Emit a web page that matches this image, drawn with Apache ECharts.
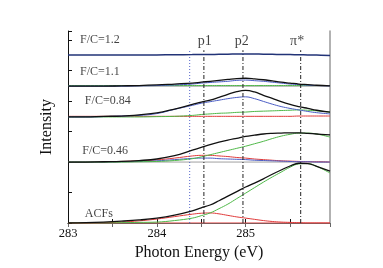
<!DOCTYPE html>
<html><head><meta charset="utf-8">
<script src="https://cdn.jsdelivr.net/npm/echarts@6/dist/echarts.min.js"></script>
<style>html,body{margin:0;padding:0;background:#fff}#c{width:383px;height:268px}</style>
</head><body><div id="c"></div>
<script>
// energy grid (eV)
const energy = [283.0,283.2,283.4,283.6,283.8,284.0,284.2,284.4,284.5,284.6,284.7,284.8,284.9,285.0,285.1,285.2,285.3,285.4,285.5,285.6,285.7,285.8,285.95];
// baselines (offset) of each spectrum
const panelNames = ['ACFs','F/C=0.46','F/C=0.84','F/C=1.1','F/C=1.2'];
const baselines = [0, 2.0, 3.48, 4.49, 5.51];

// ACFs
const acfsFit   = [0,0.01,0.03,0.06,0.1,0.16,0.26, 0.4,0.5,0.59,0.73,0.88,1.03,1.18,1.31,1.45,1.6,1.74,1.87,1.96,1.95,1.86,1.7];
const acfsGreen = [0,0,0,0.01,0.02,0.03,0.08, 0.16,0.24,0.33,0.47,0.62,0.8,0.98,1.16,1.34,1.51,1.67,1.83,1.94,1.95,1.86,1.64];
const acfsRed   = [0,0,0.01,0.03,0.07,0.13,0.21, 0.29,0.32,0.33,0.3,0.25,0.2,0.16,0.12,0.08,0.05,0.03,0.02,0.01,0,0,0];
// F/C = 0.46
const fc046Fit   = [0,0,0.01,0.02,0.05,0.1,0.21, 0.39,0.48,0.57,0.65,0.72,0.78,0.84,0.88,0.92,0.94,0.95,0.96,0.96,0.94,0.92,0.89];
const fc046Green = [0,0,0,0,0.01,0.02,0.05, 0.11,0.17,0.24,0.31,0.38,0.45,0.52,0.6,0.68,0.77,0.85,0.91,0.95,0.95,0.92,0.82];
const fc046Red   = [0,0,0.01,0.02,0.04,0.07,0.13, 0.2,0.22,0.22,0.2,0.18,0.15,0.13,0.1,0.08,0.06,0.04,0.03,0.02,0.01,0.01,0];
const fc046Blue  = [0,0,0,0.01,0.02,0.04,0.08, 0.12,0.13,0.13,0.11,0.1,0.09,0.08,0.06,0.05,0.04,0.03,0.02,0.01,0.01,0,0];
// F/C = 0.84
const fc084Fit   = [0,0,0.02,0.03,0.07,0.13,0.26, 0.41,0.49,0.55,0.64,0.74,0.83,0.87,0.82,0.71,0.61,0.5,0.41,0.34,0.28,0.22,0.16];
const fc084Blue  = [0,0,0.01,0.03,0.05,0.11,0.25, 0.38,0.45,0.5,0.55,0.6,0.64,0.66,0.6,0.51,0.42,0.34,0.28,0.23,0.18,0.14,0.1];
const fc084Green = [0,0,0,0,0,0.01,0.02, 0.05,0.08,0.1,0.12,0.13,0.15,0.16,0.18,0.19,0.2,0.21,0.22,0.23,0.22,0.2,0.16];
const fc084Red   = [0.02,0.02,0.02,0.02,0.02,0.02,0.02, 0.02,0.02,0.02,0.02,0.02,0.02,0.02,0.02,0.02,0.02,0.02,0.02,0.03,0.03,0.03,0.03];
// F/C = 1.1
const fc11Fit   = [0,0,0,0.01,0.02,0.04,0.07, 0.1,0.13,0.16,0.19,0.22,0.25,0.26,0.24,0.21,0.17,0.13,0.1,0.07,0.05,0.03,0.01];
const fc11Blue  = [0,0,0,0,0.01,0.02,0.04, 0.07,0.1,0.12,0.14,0.16,0.19,0.2,0.18,0.16,0.13,0.1,0.07,0.05,0.03,0.02,0.01];
const fc11Green = [0.02,0.02,0.02,0.02,0.02,0.02,0.02, 0.02,0.02,0.02,0.02,0.02,0.02,0.02,0.02,0.02,0.02,0.02,0.02,0.02,0.02,0.02];
// F/C = 1.2
const fc12Fit = [0,0,0,0,0,0.005,0.01, 0.015,0.018,0.02,0.025,0.03,0.033,0.035,0.033,0.03,0.025,0.02,0.015,0.01,0.005,0,-0.01];

// vertical reference lines
const refLineX = [284.37, 284.53, 284.97, 285.62];
const refLineTop = 5.67;
const peakLabels = ['p1','p2','π*'];
const peakLabelX = [284.54, 284.955, 285.58];
const peakLabelY = 5.97;
const panelLabelX = [283.19, 283.16, 283.19, 283.135, 283.135];
const panelLabelY = [0.3, 2.36, 4.0, 4.95, 6.0];

const xMin = 283, xMax = 285.95;
const C = {black:'#111111', blue:'#4a5cc4', green:'#4fb848', red:'#e03a3a', gray:'#a0a0a0'};
const serif = 'Liberation Serif';

function curve(vals, base, color, width, z){
  return {type:'line', smooth:0.4, showSymbol:false, silent:true, z:z||2,
    lineStyle:{color:color, width:width||1},
    data: vals.map((v,i)=>[energy[i], base+v])};
}
function hline(base, color){
  return {type:'line', showSymbol:false, silent:true, z:1, lineStyle:{color:color,width:1},
    data:[[xMin,base],[xMax,base]]};
}
function vline(x, color, type){
  return {type:'line', showSymbol:false, silent:true, z:3, lineStyle:{color:color,width:1,type:type},
    data:[[x,0],[x,refLineTop]]};
}

const series = [
  hline(baselines[1], C.gray),
  hline(baselines[3], C.gray),
  hline(0, C.red),
  vline(refLineX[0], '#5566cc', [1,2]),
  vline(refLineX[1], '#222', [4,2,1,2]),
  vline(refLineX[2], '#222', [4,2,1,2]),
  vline(refLineX[3], '#222', [4,2,1,2]),
  // ACFs
  curve(acfsRed, baselines[0], C.red),
  curve(acfsGreen, baselines[0], C.green),
  curve(acfsFit, baselines[0], C.black, 1.3, 4),
  // 0.46
  curve(fc046Red, baselines[1], C.red),
  curve(fc046Blue, baselines[1], C.blue),
  curve(fc046Green, baselines[1], C.green),
  curve(fc046Fit, baselines[1], C.black, 1.3, 4),
  // 0.84
  curve(fc084Red, baselines[2], C.red),
  curve(fc084Green, baselines[2], C.green),
  curve(fc084Blue, baselines[2], C.blue),
  curve(fc084Fit, baselines[2], C.black, 1.3, 4),
  // 1.1
  curve(fc11Green, baselines[3], C.green),
  curve(fc11Blue, baselines[3], C.blue),
  curve(fc11Fit, baselines[3], C.black, 1.3, 4),
  // 1.2
  curve(fc12Fit, baselines[4], '#223377', 1.5, 4),
  // panel labels
  {type:'scatter', symbolSize:0, silent:true, z:5,
    data: panelNames.map((n,i)=>({value:[panelLabelX[i], panelLabelY[i]], name:n})),
    label:{show:true, position:'inside', align:'left', verticalAlign:'middle', formatter:p=>p.name,
      fontFamily:serif, fontSize:12, color:'#111'}},
  {type:'scatter', symbolSize:0, silent:true, z:5,
    data: peakLabels.map((n,i)=>({value:[peakLabelX[i], peakLabelY], name:n})),
    label:{show:true, position:'inside', align:'center', verticalAlign:'middle', formatter:p=>p.name,
      fontFamily:serif, fontSize:14, color:'#111'}}
];

const chart = echarts.init(document.getElementById('c'), null, {renderer:'canvas'});
chart.setOption({
  animation:false,
  grid:{left:68, right:53, top:31, bottom:45, containLabel:false},
  xAxis:[{type:'value', min:xMin, max:xMax, interval:0.5, position:'bottom',
    name:'Photon Energy (eV)', nameLocation:'middle', nameGap:15,
    nameTextStyle:{fontFamily:serif, fontSize:16, color:'#111'},
    axisLine:{lineStyle:{color:'#111', width:1}},
    axisTick:{inside:true, length:4, lineStyle:{color:'#111'}},
    axisLabel:{margin:4, fontFamily:serif, fontSize:12.5, color:'#111', showMaxLabel:false,
      formatter:v=>Number.isInteger(v)?String(v):''},
    splitLine:{show:false}},
   {type:'value', min:xMin, max:xMax, interval:0.5, position:'top',
    axisLine:{lineStyle:{color:'#666', width:1}},
    axisTick:{inside:true, length:4, lineStyle:{color:'#666'}},
    axisLabel:{show:false}, splitLine:{show:false}}],
  yAxis:[{type:'value', min:0, max:6.3, interval:1, position:'left',
    name:'Intensity', nameLocation:'middle', nameGap:13,
    nameTextStyle:{fontFamily:serif, fontSize:16, color:'#111'},
    axisLine:{show:true, lineStyle:{color:'#111', width:1}},
    axisTick:{show:true, inside:true, length:4, lineStyle:{color:'#111'}},
    axisLabel:{show:false}, splitLine:{show:false}},
   {type:'value', min:0, max:6.3, position:'right',
    axisLine:{show:true, lineStyle:{color:'#999', width:1.5}},
    axisTick:{show:false}, axisLabel:{show:false}, splitLine:{show:false}}],
  series: series
});
</script></body></html>
